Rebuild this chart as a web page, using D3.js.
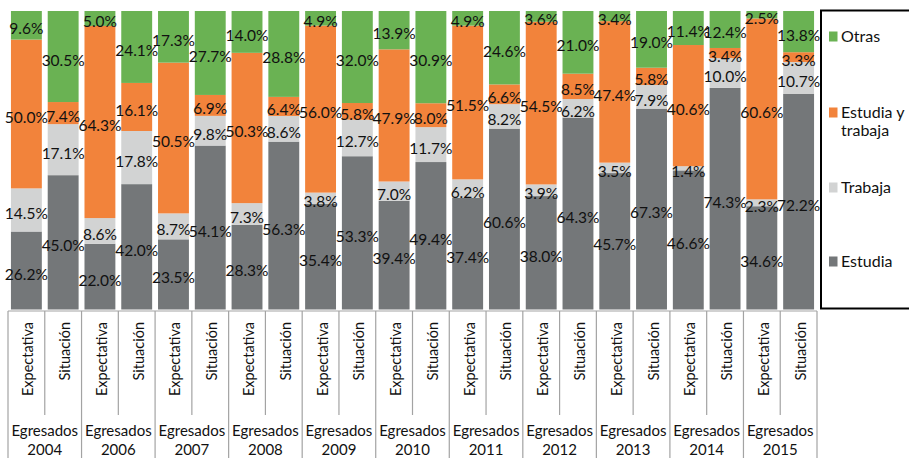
<!DOCTYPE html>
<html>
<head>
<meta charset="utf-8">
<script src="https://cdn.jsdelivr.net/npm/d3@7"></script>
<style>
  html, body { margin: 0; padding: 0; background: #fff; }
  svg { display: block; font-family: Lato, "Open Sans", sans-serif; }
</style>
</head>
<body>
<svg id="chart" width="909" height="458"></svg>
<script>
// Graduating cohorts and the two bars shown for each
const cohorts = ["2004", "2006", "2007", "2008", "2009", "2010", "2011", "2012", "2013", "2014", "2015"];
const kinds = ["Expectativa", "Situación"];

// Percentages per bar (Expectativa, Situación for each cohort, in order)
const estudia        = [26.2, 45.0, 22.0, 42.0, 23.5, 54.1, 28.3, 56.3, 35.4, 53.3, 39.4, 49.4, 37.4, 60.6, 38.0, 64.3, 45.7, 67.3, 46.6, 74.3, 34.6, 72.2];
const trabaja        = [14.5, 17.1,  8.6, 17.8,  8.7,  9.8,  7.3,  8.6,  3.8, 12.7,  7.0, 11.7,  6.2,  8.2,  3.9,  6.2,  3.5,  7.9,  1.4, 10.0,  2.3, 10.7];
const estudiaTrabaja = [50.0,  7.4, 64.3, 16.1, 50.5,  6.9, 50.3,  6.4, 56.0,  5.8, 47.9,  8.0, 51.5,  6.6, 54.5,  8.5, 47.4,  5.8, 40.6,  3.4, 60.6,  3.3];
const otras          = [ 9.6, 30.5,  5.0, 24.1, 17.3, 27.7, 14.0, 28.8,  4.9, 32.0, 13.9, 30.9,  4.9, 24.6,  3.6, 21.0,  3.4, 19.0, 11.4, 12.4,  2.5, 13.8];

const seriesKeys   = ["estudia", "trabaja", "estudiaTrabaja", "otras"];
const seriesNames  = { estudia: "Estudia", trabaja: "Trabaja", estudiaTrabaja: "Estudia y trabaja", otras: "Otras" };
const seriesColors = { estudia: "#747779", trabaja: "#d2d3d3", estudiaTrabaja: "#f2833b", otras: "#6ab253" };

// One row per bar
const rows = [];
cohorts.forEach((c, ci) => kinds.forEach((k, ki) => {
  const i = ci * 2 + ki;
  rows.push({ id: i, cohort: c, kind: k,
    estudia: estudia[i], trabaja: trabaja[i], estudiaTrabaja: estudiaTrabaja[i], otras: otras[i] });
}));

const svg = d3.select("#chart");

const x = d3.scaleBand().domain(rows.map(d => d.id)).range([8, 817]).paddingInner(0.16).paddingOuter(0.08);
const step = x.step();
const x0 = 8;
const y = d3.scaleLinear().domain([0, 1]).range([309.5, 11]);

// 100% stacked layout
const stacked = d3.stack().keys(seriesKeys).offset(d3.stackOffsetExpand)(rows);

const layers = svg.append("g").selectAll("g").data(stacked).join("g")
  .attr("fill", s => seriesColors[s.key]);

layers.selectAll("rect").data(s => s).join("rect")
  .attr("x", d => x(d.data.id))
  .attr("width", x.bandwidth())
  .attr("y", d => y(d[1]))
  .attr("height", d => y(d[0]) - y(d[1]));

// Value labels, centred in each segment
const labels = svg.append("g").attr("font-size", 15.5).attr("fill", "#111").attr("text-anchor", "middle");
stacked.forEach(s => {
  labels.selectAll(null).data(s).join("text")
    .attr("x", d => x(d.data.id) + x.bandwidth() / 2)
    .attr("y", d => (y(d[0]) + y(d[1])) / 2 + 9)
    .text(d => d.data[s.key].toFixed(1) + "%");
});

// Category axis: frame lines below the bars
const axis = svg.append("g").attr("stroke", "#a3a3a3").attr("stroke-width", 1.2);
axis.append("line").attr("x1", x0).attr("x2", x0 + step * rows.length).attr("y1", 311).attr("y2", 311);
d3.range(rows.length + 1).forEach(i => {
  const xx = x0 + i * step;
  axis.append("line").attr("x1", xx).attr("x2", xx).attr("y1", 311).attr("y2", i % 2 === 0 ? 458 : 415);
});

// Rotated bar labels
svg.append("g").attr("font-size", 14.5).attr("fill", "#111").attr("text-anchor", "end")
  .selectAll("text").data(rows).join("text")
  .attr("transform", d => `translate(${x(d.id) + x.bandwidth() / 2 + 7},322) rotate(-90)`)
  .text(d => d.kind);

// Cohort labels
const grp = svg.append("g").attr("font-size", 15).attr("fill", "#111").attr("text-anchor", "middle")
  .selectAll("g").data(cohorts).join("g");
grp.append("text").attr("x", (d, i) => x0 + (i * 2 + 1) * step).attr("y", 435.5).text("Egresados");
grp.append("text").attr("x", (d, i) => x0 + (i * 2 + 1) * step).attr("y", 454.5).text(d => d);

// Legend
const legend = svg.append("g");
legend.append("rect").attr("x", 821).attr("y", 10.5).attr("width", 110).attr("height", 298)
  .attr("fill", "none").attr("stroke", "#000").attr("stroke-width", 2);
const legendItems = [
  { key: "otras", y: 42, lines: ["Otras"] },
  { key: "estudiaTrabaja", y: 118, lines: ["Estudia y", "trabaja"] },
  { key: "trabaja", y: 193, lines: ["Trabaja"] },
  { key: "estudia", y: 267, lines: ["Estudia"] }
];
const li = legend.selectAll("g.item").data(legendItems).join("g").attr("class", "item");
li.append("rect").attr("x", 829).attr("y", d => d.y - 10.5).attr("width", 8.5).attr("height", 10)
  .attr("fill", d => seriesColors[d.key]);
li.append("text").attr("font-size", 16).attr("fill", "#111")
  .selectAll("tspan").data(d => d.lines.map((t, j) => ({ t, j, y: d.y }))).join("tspan")
  .attr("x", 841).attr("y", d => d.y + d.j * 18).text(d => d.t);
</script>
</body>
</html>
